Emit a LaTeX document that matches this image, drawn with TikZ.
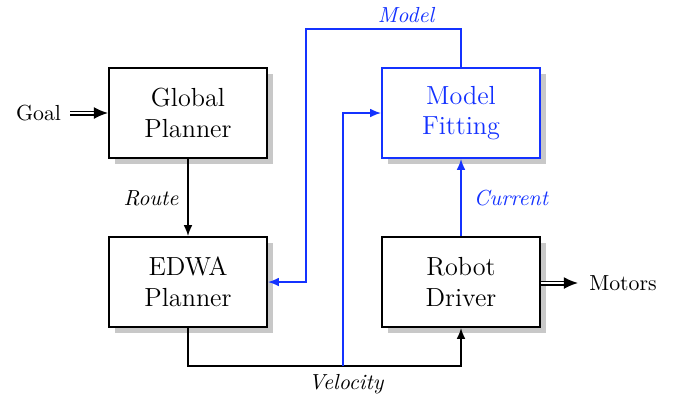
\documentclass[tikz,border=0pt]{standalone}
\usetikzlibrary{arrows.meta,shadows}
\definecolor{mblue}{RGB}{20,50,255}
\definecolor{shade}{RGB}{200,200,200}
\begin{document}
\begin{tikzpicture}[x=0.4587pt,y=-0.4587pt,
  blockbox/.style={draw, line width=0.85pt, fill=white, minimum width=72.5pt, minimum height=41.3pt,
    align=center, font=\large, inner sep=0pt,
    general shadow={shadow xshift=2.8pt, shadow yshift=-2.8pt, fill=shade}},
  conn/.style={line width=0.75pt, -{Latex[length=5pt,width=4pt]}},
  bconn/.style={conn, mblue},
  dbl/.style={double, double distance=0.8pt, line width=0.75pt, -{Latex[length=6.5pt,width=5.5pt]}},
  lbl/.style={font=\itshape, inner sep=1pt}]
\useasboundingbox (0,0) rectangle (676,399);
\node[blockbox] (gp) at (188,113) {Global\\Planner};
\node[blockbox] (ep) at (188,282) {EDWA\\Planner};
\node[blockbox, draw=mblue, text=mblue] (mf) at (461,113) {Model\\Fitting};
\node[blockbox] (rd) at (461,282) {Robot\\Driver};
\node (goal) at (38.5,113) {Goal};
\node (mot) at (623,283) {Motors};
\coordinate (gs) at (70,113);
\coordinate (ms) at (578,283);
\draw[dbl] (gs) -- (gp.west);
\draw[dbl] (rd.east |- ms) -- (ms);
\draw[conn] (gp) -- (ep);
\node[lbl] at (151,198) {Route};
\draw[bconn] (rd) -- (mf);
\node[lbl, text=mblue] at (511,198) {Current};
\coordinate (m1) at (461,29);
\coordinate (m2) at (306,29);
\coordinate (m3) at (306,282);
\draw[bconn] (mf.north) -- (m1) -- (m2) -- (m3) -- (ep.east);
\node[lbl, text=mblue] at (406,15) {Model};
\coordinate (v1) at (188,366);
\coordinate (v3) at (343,366);
\coordinate (v4) at (343,113);
\draw[conn] (ep.south) -- (v1) -- (rd.south |- v1) -- (rd.south);
\draw[bconn] (v3) -- (v4) -- (mf.west);
\node[lbl] at (346,384) {Velocity};
\end{tikzpicture}
\end{document}
